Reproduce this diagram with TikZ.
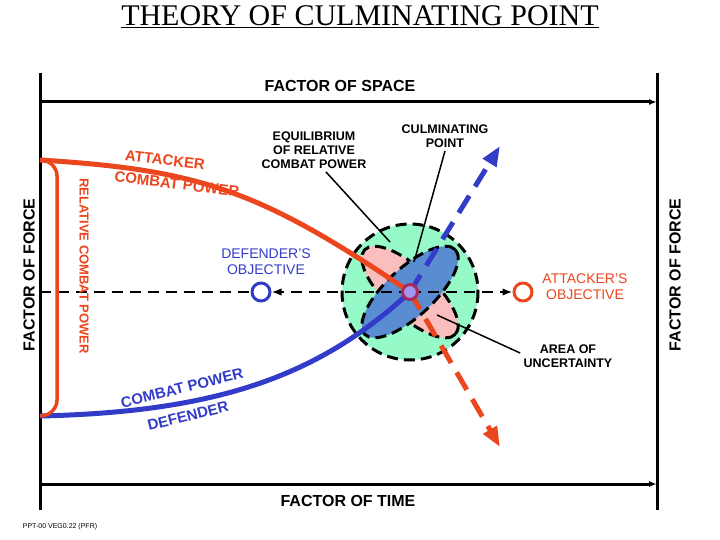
\documentclass[tikz,border=0pt]{standalone}
\usepackage{fontspec}
\setmainfont{Liberation Sans}
\newfontfamily\titlefont{Liberation Serif}
\usetikzlibrary{arrows.meta}
\definecolor{attred}{RGB}{235,70,30}
\definecolor{defblue}{RGB}{50,60,200}
\definecolor{zonegreen}{RGB}{150,250,200}
\definecolor{zonepink}{RGB}{250,190,190}
\definecolor{zoneblue}{RGB}{90,140,210}
\begin{document}
\begin{tikzpicture}[x=1pt,y=-1pt,
    axis/.style = {line width=3pt},
    lbl/.style = {font=\bfseries\fontsize{12.5}{14}\selectfont, align=center},
    big/.style = {font=\bfseries\fontsize{16}{18}\selectfont},
    curve/.style = {font=\bfseries\fontsize{15}{17}\selectfont, inner sep=1pt},
    pointer/.style = {line width=1.5pt},
    tip/.style = {-{Triangle[length=20pt,width=15pt]}}]
    \useasboundingbox (0,0) rectangle (720,540);
    % title and axes
    \node[font=\titlefont\fontsize{30}{32}\selectfont] (title) at (360,17) {\underline{THEORY OF CULMINATING POINT}};
    \draw[axis] (40,73) -- (40,510);
    \draw[axis] (657,73) -- (657,510);
    \draw[axis,-{Latex[length=8pt]}] (40,102) -- (657,102);
    \draw[axis,-{Latex[length=8pt]}] (40,484) -- (657,484);
    \node[big] (space) at (340,86) {FACTOR OF SPACE};
    \node[big] (time) at (348,501) {FACTOR OF TIME};
    \node[big,rotate=90] (forceL) at (29,275) {FACTOR OF FORCE};
    \node[big,rotate=90] (forceR) at (675,275) {FACTOR OF FORCE};
    % area of uncertainty
    \coordinate (cp) at (410,292);
    \fill[zonegreen] (cp) circle (68);
    \draw[line width=3pt,dash pattern=on 11pt off 6pt] (cp) circle (68);
    \draw[fill=zonepink,line width=3pt,dash pattern=on 11pt off 6pt,rotate around={-43:(cp)}] (cp) ellipse (62 and 24);
    \draw[fill=zoneblue,line width=3pt,dash pattern=on 11pt off 6pt,rotate around={43:(cp)}] (cp) ellipse (62 and 24);
    % objectives
    \node[circle,draw=defblue,line width=3pt,minimum size=18pt,inner sep=0] (defobj) at (261,292) {};
    \node[circle,draw=attred,line width=3pt,minimum size=18pt,inner sep=0] (attobj) at (523,292) {};
    \coordinate (leftend) at (40,292);
    \draw[line width=2.5pt,dash pattern=on 11pt off 7pt] (leftend) -- (defobj);
    \draw[line width=2.5pt,dash pattern=on 11pt off 7pt,-{Latex[length=10pt]}] (cp) -- (defobj);
    \draw[line width=2.5pt,dash pattern=on 11pt off 7pt,-{Latex[length=10pt]}] (cp) -- (attobj);
    % combat power curves
    \coordinate (attstart) at (40,160);
    \coordinate (defstart) at (40,416);
    \draw[attred,line width=5pt] (attstart) .. controls (200,170) and (260,190) .. (cp);
    \draw[defblue,line width=5pt] (defstart) .. controls (220,412) and (320,375) .. (cp);
    \coordinate (atttip) at (500,447);
    \coordinate (deftip) at (500,146);
    \draw[attred,line width=5pt,dash pattern=on 20pt off 11pt,tip] (cp) -- (atttip);
    \draw[defblue,line width=5pt,dash pattern=on 20pt off 11pt,tip] (cp) -- (deftip);
    \node[circle,draw={rgb,255:red,170;green,40;blue,90},line width=3pt,fill={rgb,255:red,160;green,150;blue,240},minimum size=15pt,inner sep=0] (cpnode) at (cp) {};
    % bracket
    \draw[attred,line width=3.5pt,rounded corners=14pt] (attstart) -- (57,162) -- (57,414) -- (defstart);
    \node[attred,rotate=-90,font=\bfseries\fontsize{13}{15}\selectfont] (relcp) at (84,266) {RELATIVE COMBAT POWER};
    \node[attred,rotate=-7,curve] (attlbl) at (165,160) {ATTACKER};
    \node[attred,rotate=-7,curve] (attcp) at (177,184) {COMBAT POWER};
    \node[defblue,rotate=14,curve] (defcp) at (182,388) {COMBAT POWER};
    \node[defblue,rotate=14,curve] (deflbl) at (188,416) {DEFENDER};
    % labels
    \node[lbl,defblue,font=\fontsize{14}{16}\selectfont] (deflabel) at (266,262) {DEFENDER'S\\OBJECTIVE};
    \node[lbl,attred,font=\fontsize{14}{16}\selectfont] (attlabel) at (585,287) {ATTACKER'S\\OBJECTIVE};
    \node[lbl] (equil) at (314,150) {EQUILIBRIUM\\OF RELATIVE\\COMBAT POWER};
    \node[lbl] (culm) at (445,136) {CULMINATING\\POINT};
    \node[lbl] (area) at (568,356) {AREA OF\\UNCERTAINTY};
    \draw[pointer] (equil.south) ++(12,0) coordinate (eqfoot) -- (390,242);
    \draw[pointer] (culm.south) -- (414,262);
    \draw[pointer] (area.west) ++(0,-3) coordinate (arfoot) -- (437,315);
    \node[font=\fontsize{7}{8}\selectfont] (ref) at (60,527) {PPT-00 VEG0.22 (PFR)};
\end{tikzpicture}
\end{document}
